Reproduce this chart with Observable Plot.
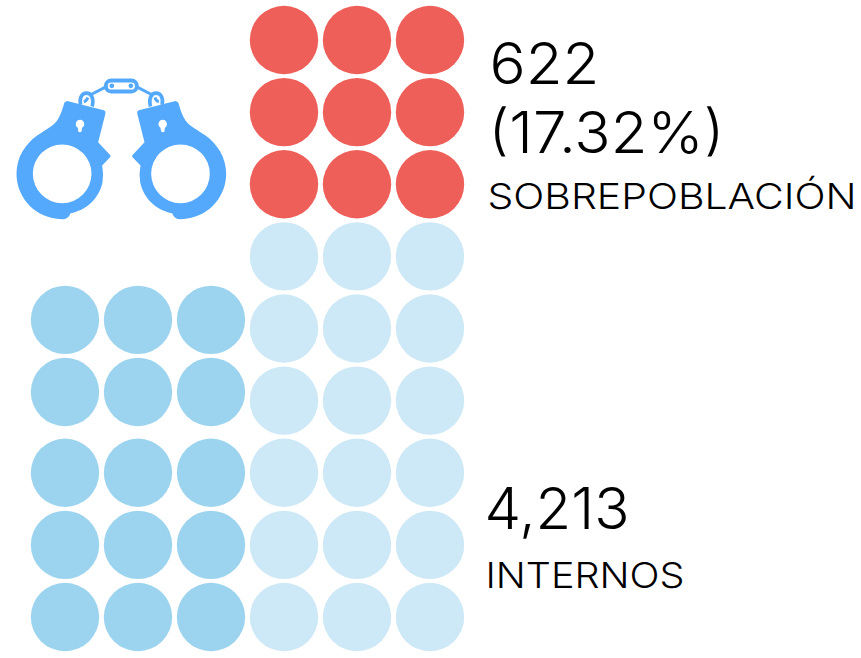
<!DOCTYPE html>
<html><head><meta charset="utf-8">
<script src="https://cdn.jsdelivr.net/npm/d3@7"></script>
<script src="https://cdn.jsdelivr.net/npm/@observablehq/plot@0.6"></script>
<style>html,body{margin:0;padding:0;background:#fff}svg{display:block}</style>
</head><body><div id="chart"></div>
<script>
const redCols=[3,4,5], redRows=[0,1,2];
const paleCols=[3,4,5], paleRows=[3,4,5,6,7,8];
const midCols=[0,1,2], midRows=[3.88,4.88,6,7,8];
const labels=["622","(17.32%)","SOBREPOBLACIÓN","4,213","INTERNOS"];
const labelWidths=[110,236,369,145,199];

const half=`<path fill-rule="evenodd" d="M197 123 Q199 121 203 122 L310 149 Q316 151 315 158 L293 245 L330 285 Q331 288 328 291 L305 315 Q310 340 306 365 C296 415 255 450 210 458 Q204 476 185 476 Q175 476 165 474 C95 465 48 405 48 340 C48 290 75 250 110 225 C135 208 160 195 170 180 C180 165 186 145 191 128 Q193 124 197 123 Z M185 252 A88 88 0 1 0 185 428 A88 88 0 1 0 185 252 Z"/>
<path fill="#fff" d="M239 178 A13 13 0 0 1 245 202 L243 213 Q238 218 233 213 L232 202 A13 13 0 0 1 239 178 Z"/>
<path fill="none" stroke="#54a9fd" stroke-width="11" d="M240 133 C236 110 245 98 258 98 C272 98 281 112 275 138"/>
<path fill="none" stroke="#54a9fd" stroke-width="9" d="M272 102 L322 76 M250 124 Q258 122 262 111"/>`;
const icon=`<svg xmlns="http://www.w3.org/2000/svg" viewBox="0 0 720 510" width="240" height="170"><g fill="#54a9fd">${half}<g transform="matrix(-1 0 0 1 725 0)">${half}</g></g><rect x="316" y="60" width="93" height="33" rx="16" fill="#fff" stroke="#54a9fd" stroke-width="12"/><circle cx="334" cy="76" r="7" fill="#54a9fd"/><circle cx="391" cy="76" r="7" fill="#54a9fd"/></svg>`;
const iconSrc="data:image/svg+xml;utf8,"+encodeURIComponent(icon);

const cells=(cols,rows)=>d3.cross(cols,rows,(col,row)=>({col,row}));
const label=(i,dx,dy,fontSize)=>Plot.text([labels[i]],{text:d=>d,frameAnchor:"top-left",lineAnchor:"bottom",textAnchor:"start",dx,dy,fontSize,fontFamily:"Inter",fontWeight:300,fill:"#000",className:"lbl"});
const dots=(cols,rows,fill)=>Plot.dot(cells(cols,rows),{x:"col",y:"row",r:34.2,fill,stroke:null});

const chart=Plot.plot({
  width:861,height:658,margin:0,
  style:{background:"#fff",overflow:"hidden"},
  x:{domain:[0,5],range:[64.5,429.5],axis:null},
  y:{domain:[0,8],range:[39.5,616.5],axis:null},
  marks:[
    dots(redCols,redRows,"#ef5f59"),
    dots(paleCols,paleRows,"#cde8f6"),
    dots(midCols,midRows,"#9cd4ef"),
    Plot.image([iconSrc],{src:d=>d,frameAnchor:"top-left",width:240,height:170,dx:120,dy:145}),
    label(0,489,83,57),
    label(1,488,152,57),
    label(2,487,208,36),
    label(3,484,528,57),
    label(4,485,587,36)
  ]
});
// Fit the fallback font to the reference's wider label widths, and trim the second label's foot as in the reference.
const ns="http://www.w3.org/2000/svg";
const lbls=chart.querySelectorAll(".lbl text");
lbls.forEach((t,i)=>{t.setAttribute("textLength",labelWidths[i]);t.setAttribute("lengthAdjust","spacingAndGlyphs");});
const clip=document.createElementNS(ns,"clipPath");clip.setAttribute("id","clipLine");
const cr=document.createElementNS(ns,"rect");cr.setAttribute("x",-100);cr.setAttribute("y",-200);cr.setAttribute("width",1000);cr.setAttribute("height",204);
clip.append(cr);chart.append(clip);
if(lbls[1])lbls[1].setAttribute("clip-path","url(#clipLine)");
document.getElementById("chart").append(chart);
</script></body></html>
